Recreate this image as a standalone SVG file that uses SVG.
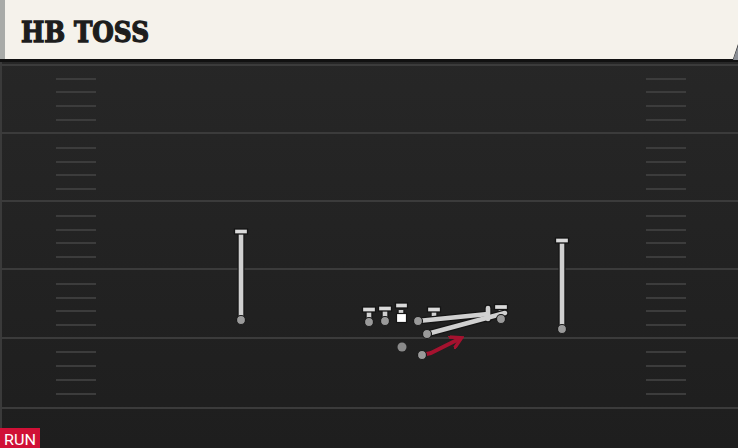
<svg xmlns="http://www.w3.org/2000/svg" width="738" height="448" viewBox="0 0 738 448">
<defs>
<linearGradient id="field" x1="0" y1="0" x2="0" y2="1">
<stop offset="0" stop-color="#282828"/>
<stop offset="1" stop-color="#1e1e1e"/>
</linearGradient>
<marker id="redArrow" viewBox="0 0 10 10" refX="6" refY="5" markerWidth="3.6" markerHeight="3.6" orient="auto" markerUnits="strokeWidth">
<path d="M0,0.5 L8,5 L0,9.5" fill="none" stroke="#a5122f" stroke-width="2.4" stroke-linejoin="miter" stroke-linecap="round"/>
</marker>
</defs>
<style>
.yard{stroke:#3b3b3b;stroke-width:2}
.hash{stroke:#3c3c3c;stroke-width:2.2}
.rt{stroke:#151515;stroke-width:7;stroke-linecap:round;fill:none}
.r{stroke:#d0d0d0;stroke-width:4.6;stroke-linecap:round;fill:none}
.bar{fill:#dadada;stroke:#151515;stroke-width:1.3}
.dot{fill:#9a9a9a;stroke:#1a1a1a;stroke-width:1.2}
.title{font-family:"DejaVu Serif",serif;font-weight:900;font-size:27px;fill:#1d1d1d;stroke:#1d1d1d;stroke-width:1.3}
.run{font-family:Roboto,"Liberation Sans",sans-serif;font-size:15px;fill:#fff}
</style>
<rect x="0" y="0" width="738" height="448" fill="url(#field)"/>
<line x1="1" y1="60" x2="1" y2="448" stroke="#3a3a3a" stroke-width="2"/>
<g id="field-lines">
<line class="yard" x1="0" y1="65" x2="738" y2="65"/>
<line class="yard" x1="0" y1="133" x2="738" y2="133"/>
<line class="yard" x1="0" y1="201" x2="738" y2="201"/>
<line class="yard" x1="0" y1="269" x2="738" y2="269"/>
<line class="yard" x1="0" y1="338" x2="738" y2="338"/>
<line class="yard" x1="0" y1="408" x2="738" y2="408"/>
<path class="hash" d="M56,79H96M56,92H96M56,106H96M56,120H96M56,148H96M56,162H96M56,175H96M56,189H96M56,216H96M56,230H96M56,243H96M56,257H96M56,284H96M56,298H96M56,311H96M56,325H96M56,352H96M56,366H96M56,380H96M56,394H96"/>
<path class="hash" d="M646,79H686M646,92H686M646,106H686M646,120H686M646,148H686M646,162H686M646,175H686M646,189H686M646,216H686M646,230H686M646,243H686M646,257H686M646,284H686M646,298H686M646,311H686M646,325H686M646,352H686M646,366H686M646,380H686M646,394H686"/>
</g>
<g id="header">
<rect x="0" y="58" width="738" height="4" fill="#111"/>
<path d="M0,0 H738 V44 L733,59 H0 Z" fill="#f5f2eb"/>
<path d="M738,46 L738,60 L733,60 Z" fill="#8a8e94"/>
<rect x="0" y="0" width="5" height="59" fill="#a9aba8"/>
<text class="title" x="21" y="42" textLength="128" lengthAdjust="spacingAndGlyphs">HB TOSS</text>
</g>
<g id="connectors">
<path class="rt" d="M241,320 V233"/>
<path class="r" d="M241,320 V233"/>
<path class="rt" d="M562,329 V242"/>
<path class="r" d="M562,329 V242"/>
<path class="rt" d="M369,322 V311 M385,322 V311 M434,320 V311 M501,319 V309"/>
<path class="r" d="M369,322 V311 M385,322 V311 M434,320 V311 M501,319 V309"/>
<path class="rt" d="M418,321 L488,314 M488,308 L488,319"/>
<path class="rt" d="M427,334 L505,313"/>
<path class="r" d="M418,321 L488,314 M488,308 L488,319"/>
<path class="r" d="M427,334 L505,313"/>
<path d="M422,355 L431,353 L459,339" fill="none" stroke="#a5122f" stroke-width="4" stroke-linecap="round" stroke-linejoin="round" marker-end="url(#redArrow)"/>
</g>
<g id="wr-left">
<rect class="bar" x="234.5" y="229" width="13" height="5"/>
<circle class="dot" cx="241" cy="320" r="4.5"/>
</g>
<g id="wr-right">
<rect class="bar" x="555.5" y="238" width="13" height="5"/>
<circle class="dot" cx="562" cy="329" r="4.5"/>
</g>
<g id="lt">
<rect class="bar" x="362.5" y="307" width="13" height="5"/>
<circle class="dot" cx="369" cy="322" r="4.5"/>
</g>
<g id="lg">
<rect class="bar" x="378.5" y="306" width="13" height="5"/>
<circle class="dot" cx="385" cy="321" r="4.5"/>
</g>
<g id="center">
<path d="M401,310 V316" stroke="#151515" stroke-width="7"/>
<path d="M401,310 V316" stroke="#d0d0d0" stroke-width="4.6"/>
<rect class="bar" x="395.5" y="303" width="12" height="5"/>
<rect x="396.5" y="313.5" width="10" height="9" fill="#ffffff" stroke="#151515" stroke-width="1.2"/>
</g>
<g id="rg">
<circle class="dot" cx="418" cy="321" r="4.5"/>
</g>
<g id="rt">
<rect class="bar" x="427.5" y="307" width="13" height="5"/>
</g>
<g id="te">
<rect class="bar" x="494.5" y="304.5" width="13" height="5"/>
<circle class="dot" cx="501" cy="319" r="4.5"/>
</g>
<g id="fb">
<circle class="dot" cx="427" cy="334" r="4.5"/>
</g>
<g id="qb">
<circle cx="402" cy="347" r="4.5" fill="#8a8a8a"/>
</g>
<g id="hb">
<circle class="dot" cx="422" cy="355" r="4.5"/>
</g>
<g id="badge">
<rect x="0" y="428" width="40" height="20" fill="#d01036"/>
<text class="run" x="4" y="445" textLength="32" lengthAdjust="spacingAndGlyphs">RUN</text>
</g>
</svg>
